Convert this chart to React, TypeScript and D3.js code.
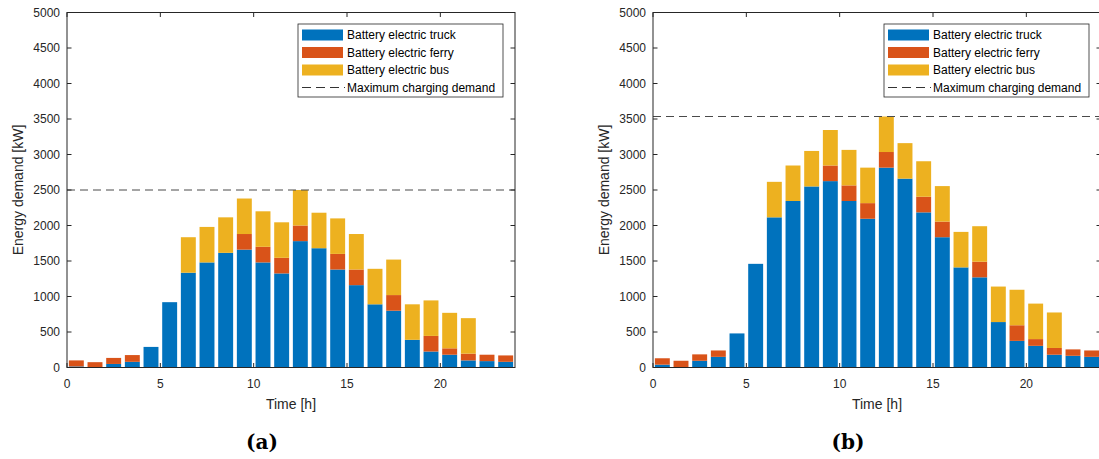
import React from "react";
import * as d3 from "d3";

// Hourly charging demand per vehicle type (kW), scenario (a)
const hours = d3.range(24);
const truckA = [15, 5, 50, 80, 290, 920, 1335, 1480, 1615, 1660, 1480, 1325, 1780, 1680, 1380, 1160, 890, 800, 390, 225, 180, 100, 90, 80];
const ferryA = [85, 70, 85, 95, 0, 0, 0, 0, 0, 220, 220, 220, 220, 0, 220, 220, 0, 220, 0, 220, 90, 95, 90, 90];
const busA = [0, 0, 0, 0, 0, 0, 500, 500, 500, 500, 500, 500, 500, 500, 500, 500, 500, 500, 500, 500, 500, 500, 0, 0];
const maxDemandA = 2500;

// Scenario (b)
const truckB = [40, 5, 95, 150, 480, 1460, 2115, 2345, 2550, 2625, 2345, 2095, 2815, 2660, 2185, 1835, 1410, 1270, 640, 375, 305, 180, 165, 150];
const ferryB = [90, 90, 90, 90, 0, 0, 0, 0, 0, 220, 220, 220, 220, 0, 220, 220, 0, 220, 0, 220, 95, 95, 90, 90];
const busB = [0, 0, 0, 0, 0, 0, 500, 500, 500, 500, 500, 500, 500, 500, 500, 500, 500, 500, 500, 500, 500, 500, 0, 0];
const maxDemandB = 3535;

const seriesNames = ["Battery electric truck", "Battery electric ferry", "Battery electric bus"];
const seriesColors = ["#0072BD", "#D95319", "#EDB120"];
const maxLabel = "Maximum charging demand";
const yTicks = d3.range(0, 5001, 500);
const xTicks = [0, 5, 10, 15, 20];

const W = 1099;
const H = 459;
const AX = "#262626";
const FONT = "'Liberation Sans', Arial, Helvetica, sans-serif";

type PanelProps = {
  left: number;
  truck: number[];
  ferry: number[];
  bus: number[];
  maxDemand: number;
  caption: string;
};

function Panel({ left, truck, ferry, bus, maxDemand, caption }: PanelProps) {
  const plotW = 448;
  const top = 12.5;
  const bottom = 367.5;
  const x = d3.scaleLinear().domain([0, 24]).range([left, left + plotW]);
  const y = d3.scaleLinear().domain([0, 5000]).range([bottom, top]);
  const rows = hours.map((h) => ({ h, truck: truck[h], ferry: ferry[h], bus: bus[h] }));
  const stack = d3.stack<any>().keys(["truck", "ferry", "bus"])(rows);
  const barW = x(0.8) - x(0);
  const tl = 4.5;

  const legX = left + 231;
  const legY = 24;
  const rowY = (i: number) => legY + 11 + i * 17.5;

  return (
    <g>
      {/* stacked bars */}
      {stack.map((layer, si) => (
        <g key={si} fill={seriesColors[si]}>
          {layer.map((d, i) => {
            const h = y(d[0]) - y(d[1]);
            if (h <= 0) return null;
            return (
              <rect
                key={i}
                x={x(hours[i] + 0.1)}
                y={y(d[1])}
                width={barW}
                height={h}
              />
            );
          })}
        </g>
      ))}

      {/* maximum demand line */}
      <line
        x1={x(0)}
        x2={x(24)}
        y1={y(maxDemand)}
        y2={y(maxDemand)}
        stroke="#4a4a4a"
        strokeWidth={1}
        strokeDasharray="8,5"
      />

      {/* axes box */}
      <rect
        x={x(0)}
        y={top}
        width={plotW}
        height={bottom - top}
        fill="none"
        stroke={AX}
        strokeWidth={1}
      />
      {yTicks.map((t) => (
        <g key={"y" + t}>
          <line x1={x(0)} x2={x(0) + tl} y1={y(t)} y2={y(t)} stroke={AX} />
          <line x1={x(24)} x2={x(24) - tl} y1={y(t)} y2={y(t)} stroke={AX} />
          <text
            x={x(0) - 7}
            y={y(t)}
            textAnchor="end"
            dominantBaseline="central"
            fontSize={12}
            fill={AX}
            fontFamily={FONT}
          >
            {t}
          </text>
        </g>
      ))}
      {xTicks.map((t) => (
        <g key={"x" + t}>
          <line x1={x(t)} x2={x(t)} y1={bottom} y2={bottom - tl} stroke={AX} />
          <line x1={x(t)} x2={x(t)} y1={top} y2={top + tl} stroke={AX} />
          <text
            x={x(t)}
            y={bottom + 16}
            textAnchor="middle"
            dominantBaseline="central"
            fontSize={12}
            fill={AX}
            fontFamily={FONT}
          >
            {t}
          </text>
        </g>
      ))}

      {/* axis labels */}
      <text
        x={x(12)}
        y={bottom + 36}
        textAnchor="middle"
        dominantBaseline="central"
        fontSize={14}
        fill={AX}
        fontFamily={FONT}
      >
        Time [h]
      </text>
      <text
        transform={`translate(${x(0) - 49},${(top + bottom) / 2}) rotate(-90)`}
        textAnchor="middle"
        dominantBaseline="central"
        fontSize={14}
        fill={AX}
        fontFamily={FONT}
      >
        Energy demand [kW]
      </text>

      {/* legend */}
      <rect x={legX} y={legY} width={205} height={73} fill="#fff" stroke={AX} strokeWidth={0.8} />
      {seriesNames.map((name, i) => (
        <g key={name}>
          <rect x={legX + 4} y={rowY(i) - 5.5} width={41} height={11} fill={seriesColors[i]} />
          <text
            x={legX + 49}
            y={rowY(i)}
            dominantBaseline="central"
            fontSize={12}
            fill="#000"
            fontFamily={FONT}
          >
            {name}
          </text>
        </g>
      ))}
      <line
        x1={legX + 4}
        x2={legX + 47}
        y1={rowY(3)}
        y2={rowY(3)}
        stroke="#333"
        strokeWidth={1}
        strokeDasharray="9,5"
      />
      <text
        x={legX + 49}
        y={rowY(3)}
        dominantBaseline="central"
        fontSize={12}
        fill="#000"
        fontFamily={FONT}
      >
        {maxLabel}
      </text>

      {/* subfigure caption */}
      <text
        x={x(0) + 195}
        y={449}
        textAnchor="middle"
        fontSize={20}
        fontWeight="bold"
        fill="#000"
        fontFamily="'DejaVu Serif', serif"
      >
        {caption}
      </text>
    </g>
  );
}

export default function App() {
  return (
    <svg
      width={W}
      height={H}
      viewBox={`0 0 ${W} ${H}`}
      style={{ position: "absolute", left: 0, top: 0, background: "#fff" }}
    >
      <rect width={W} height={H} fill="#fff" />
      <Panel left={67} truck={truckA} ferry={ferryA} bus={busA} maxDemand={maxDemandA} caption="(a)" />
      <Panel left={653} truck={truckB} ferry={ferryB} bus={busB} maxDemand={maxDemandB} caption="(b)" />
    </svg>
  );
}
